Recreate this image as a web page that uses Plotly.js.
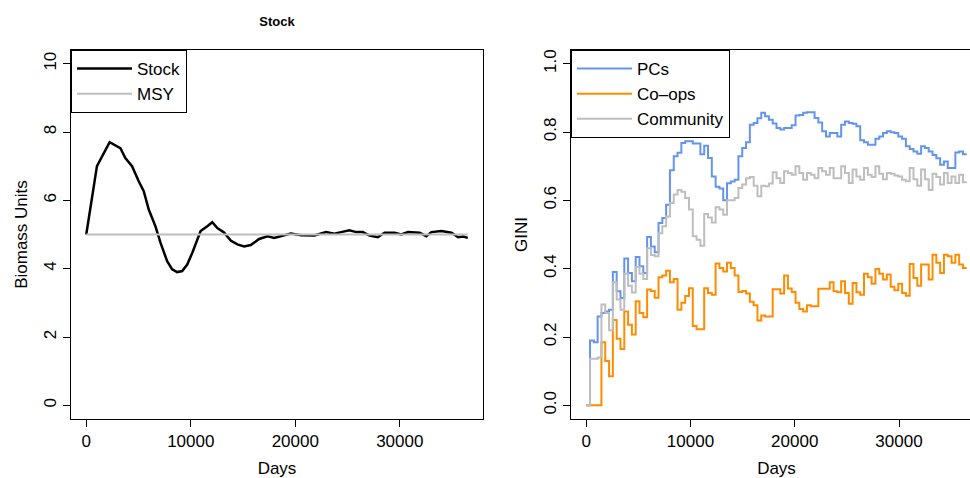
<!DOCTYPE html>
<html><head><meta charset="utf-8">
<script src="https://cdn.plot.ly/plotly-3.0.1.min.js"></script>
<style>html,body{margin:0;padding:0;overflow:hidden;background:#fff;width:970px;height:478px}#chart{width:990px;height:478px}</style>
</head><body><div id="chart"></div>
<script>
// ---- Left panel: Stock vs MSY ----
const stockDays = [0,1023,2237,3261,3740,4380,5020,5500,5980,6620,7100,7740,8220,8700,9180,9660,10140,10940,11580,12060,12540,13180,13820,14460,15100,15740,16540,17340,17980,18620,19580,20540,21820,22940,23740,24380,25180,25820,26460,27100,27900,28540,29500,30140,30780,31900,32540,33020,33980,34940,35580,36060,36500];
const stockValues = [5.0,7.0,7.70,7.53,7.24,7.0,6.56,6.27,5.73,5.24,4.76,4.22,3.98,3.90,3.93,4.12,4.46,5.10,5.24,5.36,5.19,5.06,4.82,4.71,4.65,4.69,4.87,4.95,4.90,4.95,5.03,4.98,4.97,5.07,5.02,5.07,5.12,5.07,5.07,4.97,4.92,5.05,5.05,5.0,5.07,5.05,4.95,5.07,5.10,5.05,4.92,4.94,4.90];
const msyDays = [0,36500];
const msyValues = [5,5];

// ---- Right panel: GINI, yearly steps ----
const giniDays = Array.from({length:101},(_,k)=>k*365);
const pcs = [0,0.19,0.185,0.26,0.27,0.275,0.28,0.39,0.334,0.314,
 0.43,0.387,0.363,0.434,0.407,0.387,0.493,0.465,0.448,0.534,
 0.548,0.587,0.688,0.729,0.739,0.768,0.773,0.773,0.766,0.766,
 0.735,0.76,0.724,0.67,0.64,0.635,0.60,0.65,0.655,0.66,
 0.729,0.753,0.77,0.821,0.826,0.84,0.856,0.846,0.836,0.825,
 0.812,0.807,0.812,0.812,0.82,0.848,0.85,0.856,0.858,0.858,
 0.841,0.828,0.802,0.787,0.797,0.797,0.787,0.821,0.831,0.826,
 0.824,0.817,0.776,0.77,0.763,0.763,0.78,0.787,0.797,0.802,
 0.799,0.797,0.787,0.78,0.758,0.75,0.743,0.736,0.758,0.753,
 0.743,0.733,0.723,0.704,0.714,0.695,0.695,0.74,0.743,0.735,0.735];
const coops = [0,0,0,0,0.185,0.13,0.085,0.25,0.195,0.165,
 0.275,0.236,0.207,0.305,0.27,0.258,0.339,0.335,0.315,0.375,
 0.38,0.394,0.36,0.37,0.28,0.30,0.32,0.343,0.232,0.223,
 0.223,0.343,0.329,0.324,0.415,0.402,0.392,0.417,0.402,0.38,
 0.332,0.335,0.327,0.303,0.293,0.248,0.263,0.26,0.26,0.34,
 0.34,0.327,0.38,0.342,0.332,0.30,0.282,0.275,0.293,0.29,
 0.29,0.341,0.341,0.341,0.36,0.334,0.331,0.363,0.329,0.297,
 0.358,0.331,0.324,0.385,0.375,0.356,0.399,0.385,0.368,0.383,
 0.347,0.337,0.356,0.329,0.321,0.414,0.373,0.35,0.412,0.412,
 0.368,0.441,0.417,0.387,0.441,0.436,0.417,0.441,0.412,0.402,0.402];
const community = [0,0.136,0.136,0.14,0.295,0.27,0.22,0.36,0.31,0.28,
 0.385,0.35,0.33,0.405,0.385,0.37,0.46,0.44,0.436,0.504,
 0.524,0.553,0.592,0.617,0.63,0.625,0.607,0.573,0.495,0.485,
 0.467,0.56,0.55,0.535,0.58,0.573,0.558,0.60,0.60,0.607,
 0.636,0.646,0.665,0.668,0.643,0.612,0.643,0.641,0.649,0.682,
 0.665,0.651,0.685,0.68,0.675,0.70,0.68,0.66,0.68,0.675,
 0.665,0.695,0.685,0.675,0.695,0.665,0.665,0.70,0.68,0.651,
 0.69,0.67,0.66,0.695,0.675,0.668,0.70,0.678,0.662,0.68,
 0.678,0.673,0.67,0.66,0.656,0.695,0.662,0.643,0.69,0.662,
 0.63,0.678,0.668,0.646,0.68,0.651,0.67,0.651,0.675,0.653,0.653];

const gTickText = ['0.0','0.2','0.4','0.6','0.8','1.0'];

const W=990,H=478;
const px=x=>x/W, py=y=>1-y/H;
const FF='"Liberation Sans", Arial, Helvetica, sans-serif';
const font={family:FF,size:17,color:'#000'};
const ax={showline:true,mirror:true,linecolor:'#000',linewidth:1,ticks:'outside',ticklen:7,tickcolor:'#000',tickwidth:1,showgrid:false,zeroline:false,tickfont:font,automargin:false};
const xax={...ax,tickmode:'linear',tick0:0,dtick:10000,tickformat:'d',range:[-1460,37960],ticklabeloverflow:'allow'};

const traces=[
 {x:stockDays,y:stockValues,type:'scatter',mode:'lines',name:'Stock',line:{color:'#000',width:2.5},xaxis:'x',yaxis:'y',legend:'legend'},
 {x:msyDays,y:msyValues,type:'scatter',mode:'lines',name:'MSY',line:{color:'#BEBEBE',width:2},xaxis:'x',yaxis:'y',legend:'legend'},
 {x:giniDays,y:pcs,type:'scatter',mode:'lines',name:'PCs',line:{color:'#6495ED',width:2,shape:'hv'},xaxis:'x2',yaxis:'y2',legend:'legend2'},
 {x:giniDays,y:coops,type:'scatter',mode:'lines',name:'Co\u2013ops',line:{color:'#FF8C00',width:2,shape:'hv'},xaxis:'x2',yaxis:'y2',legend:'legend2'},
 {x:giniDays,y:community,type:'scatter',mode:'lines',name:'Community',line:{color:'#BEBEBE',width:2,shape:'hv'},xaxis:'x2',yaxis:'y2',legend:'legend2'}
];
const legendBase={xanchor:'left',yanchor:'top',bordercolor:'#000',borderwidth:1,bgcolor:'#fff',font:font,tracegroupgap:0,itemwidth:55};
const layout={
 width:W,height:H,margin:{l:0,r:0,t:0,b:0},paper_bgcolor:'#fff',plot_bgcolor:'#fff',font:font,showlegend:true,
 title:{text:'<b>Stock</b>',font:{family:FF,size:13,color:'#000'},x:px(277),xanchor:'center',y:py(21),yanchor:'middle'},
 xaxis:{...xax,domain:[px(71),px(483)],anchor:'y',title:{text:'Days',font:font}},
 yaxis:{...ax,domain:[py(419),py(50)],range:[-0.4,10.4],tickmode:'linear',tick0:0,dtick:2,tickangle:-90,anchor:'x',title:{text:'Biomass Units',font:font}},
 xaxis2:{...xax,domain:[px(571),px(982)],anchor:'y2',title:{text:'Days',font:font}},
 yaxis2:{...ax,domain:[py(419),py(50)],range:[-0.04,1.04],tickmode:'linear',tick0:0,dtick:0.2,tickformat:'.1f',tickangle:-90,anchor:'x2',title:{text:'GINI',font:font}},
 legend:{...legendBase,x:px(71),y:py(50),entrywidth:66},
 legend2:{...legendBase,x:px(571),y:py(50),entrywidth:96}
};
Plotly.newPlot('chart',traces,layout,{displayModeBar:false,staticPlot:true});
</script></body></html>
